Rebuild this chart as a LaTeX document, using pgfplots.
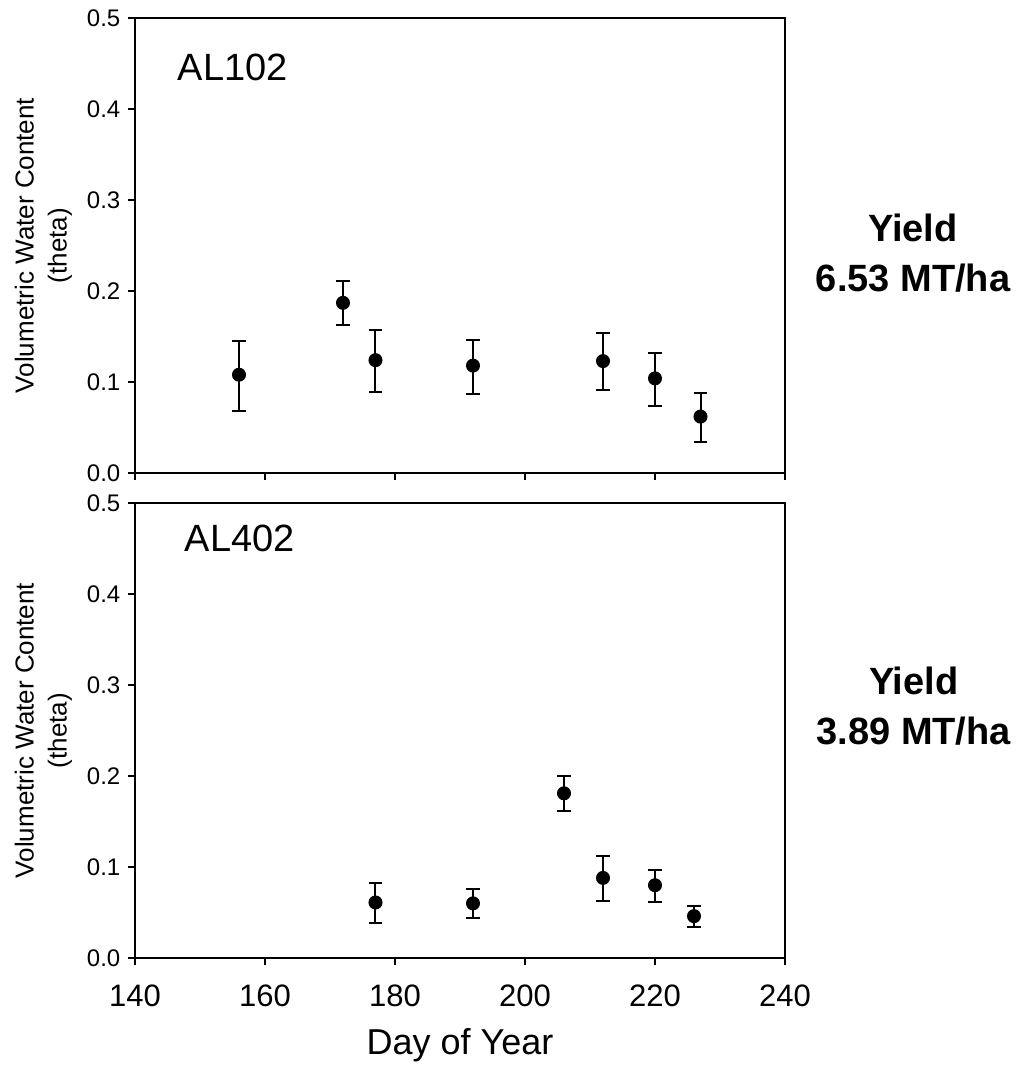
\documentclass[border=0pt]{standalone}
\usepackage{fontspec}
\setmainfont{Liberation Sans}
\usepackage{pgfplots}
\pgfplotsset{compat=1.18}
\begin{document}
\begin{tikzpicture}
\useasboundingbox (-67.5pt,-297pt) rectangle (444pt,236.5pt);
\pgfplotsset{
  panel/.style={
    width=325pt, height=227.5pt, scale only axis,
    xmin=140, xmax=240, ymin=0, ymax=0.5,
    xtick={140,160,...,240}, ytick={0,0.1,...,0.5},
    tick align=outside, major tick length=3.5pt,
    xtick pos=bottom, ytick pos=left,
    line width=1pt, every tick/.style={line width=1pt, black},
    /pgf/number format/assume math mode=true,
    yticklabel style={font=\fontsize{12}{14}\selectfont, /pgf/number format/fixed, /pgf/number format/precision=1, /pgf/number format/fixed zerofill},
    ylabel={Volumetric Water Content\\(theta)},
    ylabel style={font=\fontsize{13}{16.5}\selectfont, align=center, at={(axis description cs:-0.141,0.5)}, anchor=center, rotate=0},
    clip=false,
  },
  pts/.style={only marks, mark=*, mark size=3pt, black, mark options={fill=black, draw=black},
    error bars/.cd, y dir=both, y explicit,
    error bar style={line width=1pt, black},
    error mark options={rotate=90, mark size=3.4pt, line width=1pt, black}},
}
\begin{axis}[panel, name=top, at={(0,0)}, anchor=south west, xticklabels={}]
\addplot[pts] table[x=x, y=y, y error plus=ep, y error minus=em] {
x y ep em
156 0.108 0.037 0.040
172 0.187 0.024 0.024
177 0.124 0.033 0.035
192 0.118 0.028 0.031
212 0.123 0.031 0.032
220 0.104 0.028 0.030
227 0.062 0.026 0.028
};
\node[anchor=west, font=\fontsize{19}{22}\selectfont] at (axis description cs:0.054,0.892) {AL102};
\node[align=center, font=\fontsize{19}{25}\selectfont\bfseries] at (axis description cs:1.197,0.4835) {Yield\\6.53 MT/ha};
\end{axis}
\begin{axis}[panel, name=bot, at={(0,-242.5pt)}, anchor=south west,
  xticklabel style={font=\fontsize{15.5}{17}\selectfont, yshift=-6pt},
  xlabel={Day of Year},
  xlabel style={font=\fontsize{18}{21}\selectfont, at={(axis description cs:0.5,-0.191)}, anchor=center}]
\addplot[pts] table[x=x, y=y, y error plus=ep, y error minus=em] {
x y ep em
177 0.061 0.021 0.023
192 0.060 0.016 0.016
206 0.181 0.019 0.019
212 0.088 0.024 0.025
220 0.080 0.017 0.018
226 0.046 0.011 0.012
};
\node[anchor=west, font=\fontsize{19}{22}\selectfont] at (axis description cs:0.065,0.923) {AL402};
\node[align=center, font=\fontsize{19}{25}\selectfont\bfseries] at (axis description cs:1.198,0.553) {Yield\\3.89 MT/ha};
\end{axis}
\end{tikzpicture}
\end{document}
